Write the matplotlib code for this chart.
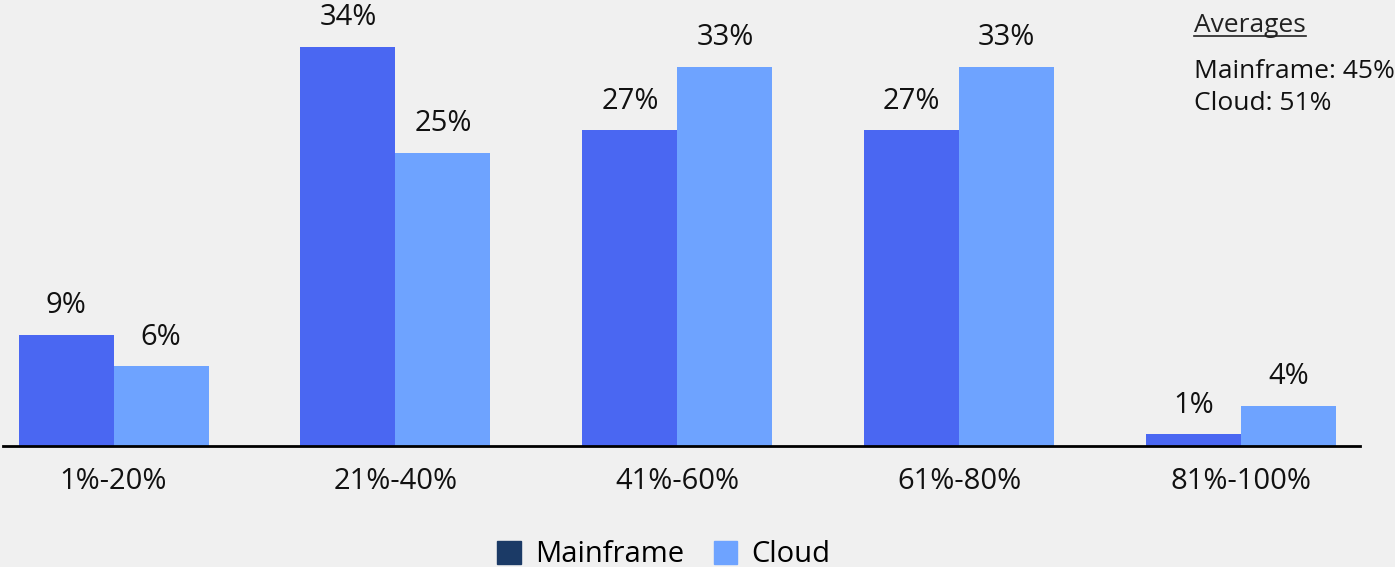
import numpy as np
import matplotlib.pyplot as plt
from matplotlib.patches import Patch
from matplotlib.lines import Line2D

plt.rcParams['font.family'] = ['Open Sans', 'DejaVu Sans']

# dados
faixas = ['1%-20%', '21%-40%', '41%-60%', '61%-80%', '81%-100%']
mainframe = [9.5, 34.0, 26.9, 26.9, 1.0]
cloud = [6.8, 25.0, 32.3, 32.3, 3.4]
rot_main = ['9%', '34%', '27%', '27%', '1%']
rot_cloud = ['6%', '25%', '33%', '33%', '4%']
medias = {'Mainframe': '45%', 'Cloud': '51%'}

cor_main = '#4a67f2'
cor_cloud = '#6ea3ff'
cor_leg_main = '#1b3a66'
fundo = '#f0f0f0'
fs = 21

fig = plt.figure(figsize=(13.95, 5.67), dpi=100, facecolor=fundo)
ax = fig.add_axes([3/1395, (567-446)/567, (1360-3)/1395, 446/567])
ax.set_facecolor(fundo)

x = np.arange(len(faixas))
w = 0.337
b1 = ax.bar(x - w/2, mainframe, w, color=cor_main, zorder=2)
b2 = ax.bar(x + w/2, cloud, w, color=cor_cloud, zorder=2)

for barras, rots in [(b1, rot_main), (b2, rot_cloud)]:
    for b, r in zip(barras, rots):
        ax.annotate(r, (b.get_x() + b.get_width()/2, b.get_height()),
                    xytext=(0, 21), textcoords='offset points',
                    ha='center', va='center', fontsize=fs, color='#111111')

ax.set_xlim(-0.392, 4.421)
ax.set_ylim(0, 38.0)
ax.set_xticks(x)
ax.set_xticklabels(faixas, fontsize=fs, color='#111111')
ax.tick_params(axis='x', length=0, pad=15)
ax.set_yticks([])
for s in ['top', 'right', 'left']:
    ax.spines[s].set_visible(False)
ax.spines['bottom'].set_linewidth(2)
ax.spines['bottom'].set_color('black')
ax.spines['bottom'].set_zorder(3)

# médias no canto
t = fig.text(1194/1395, 1 - 26/567, 'Averages', fontsize=19, color='#222222',
             ha='left', va='center')
fig.text(1194/1395, 1 - 71/567, f"Mainframe: {medias['Mainframe']}", fontsize=19,
         color='#111111', ha='left', va='center')
fig.text(1194/1395, 1 - 104/567, f"Cloud: {medias['Cloud']}", fontsize=19,
         color='#111111', ha='left', va='center')
fig.canvas.draw()
bb = t.get_window_extent().transformed(fig.transFigure.inverted())
fig.add_artist(Line2D([bb.x0, bb.x1], [bb.y0 + 0.004, bb.y0 + 0.004],
                      transform=fig.transFigure, color='#222222', lw=1.2))

handles = [Patch(color=cor_leg_main, label='Mainframe'),
           Patch(color=cor_cloud, label='Cloud')]
fig.legend(handles=handles, loc='center', bbox_to_anchor=(0.476, 1 - 555/567),
           ncol=2, frameon=False, fontsize=fs, handlelength=0.8, handleheight=0.8,
           handletextpad=0.5, columnspacing=1.0)

fig.savefig('out.png', dpi=100, facecolor=fundo)
